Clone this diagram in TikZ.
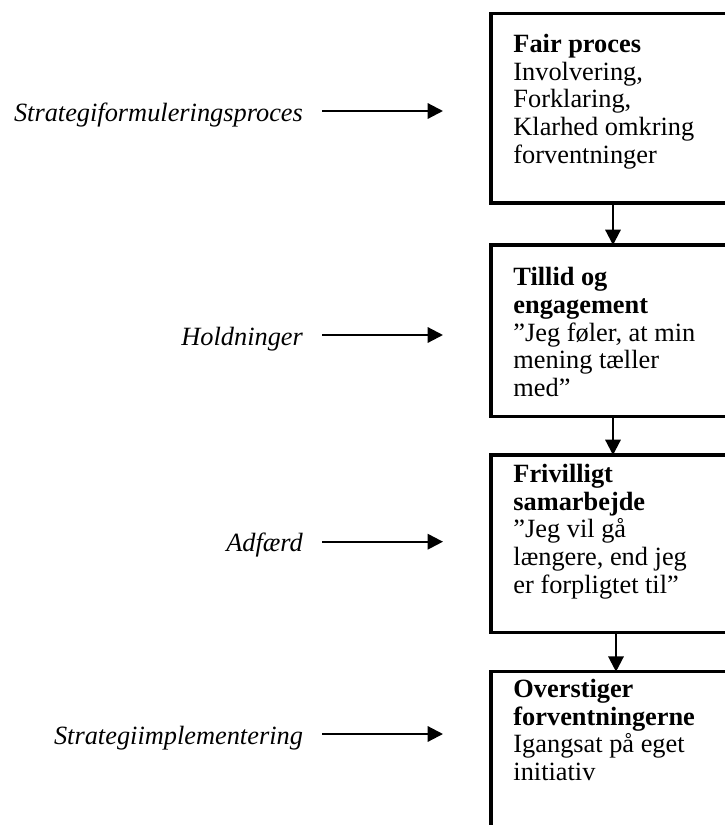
\documentclass[tikz,border=0pt]{standalone}
\usepackage{fontspec}
\setmainfont{Liberation Serif}
\usetikzlibrary{arrows.meta,calc}

\begin{document}
\begin{tikzpicture}[
    x=0.4554pt, y=-0.4554pt,
    stagebox/.style={draw, line width=1.6pt, anchor=north west, outer sep=0pt, minimum width=125pt},
    stagetext/.style={anchor=north west, align=left, inner sep=0pt, font=\fontsize{12}{12.6}\selectfont},
    cause/.style={anchor=east, inner xsep=8.7pt, inner ysep=0pt, outer sep=0pt, text height=9.2pt, text depth=0pt, font=\fontsize{12}{12.6}\selectfont\itshape},
    flow/.style={-{Triangle[length=7pt, width=7pt]}, line width=1pt}
]
\useasboundingbox (0,0) rectangle (724,825);

\node[stagebox, minimum height=86.5pt] (fair) at (491,13.3) {};
\node[stagetext] (fair-text) at ($(fair.north west)+(22,20.4)$) {\textbf{Fair proces}\\Involvering,\\Forklaring,\\Klarhed omkring\\forventninger};

\node[stagebox, minimum height=78.2pt] (tillid) at (491,245) {};
\node[stagetext] (tillid-text) at ($(tillid.north west)+(22,22)$) {\textbf{Tillid og}\\\textbf{engagement}\\”Jeg føler, at min\\mening tæller\\med”};

\node[stagebox, minimum height=80.9pt] (samarbejde) at (491,455) {};
\node[stagetext] (samarbejde-text) at ($(samarbejde.north west)+(22,8.7)$) {\textbf{Frivilligt}\\\textbf{samarbejde}\\”Jeg vil gå\\længere, end jeg\\er forpligtet til”};

\node[stagebox, minimum height=90pt] (overstiger) at (491,671.7) {};
\node[stagetext] (overstiger-text) at ($(overstiger.north west)+(22,7)$) {\textbf{Overstiger}\\\textbf{forventningerne}\\Igangsat på eget\\initiativ};

\draw[flow] ($(fair.south west)+(122,0)$) -- ($(tillid.north west)+(122,0)$);
\draw[flow] ($(tillid.south west)+(122,0)$) -- ($(samarbejde.north west)+(122,0)$);
\draw[flow] ($(samarbejde.south west)+(125,0)$) -- ($(overstiger.north west)+(125,0)$);

\node[cause] (formulering) at (322,111) {Strategiformuleringsproces};
\coordinate (formulering-tip) at (443,111);
\draw[flow] (formulering) -- (formulering-tip);

\node[cause] (holdninger) at (322,335) {Holdninger};
\coordinate (holdninger-tip) at (443,335);
\draw[flow] (holdninger) -- (holdninger-tip);

\node[cause] (adfaerd) at (322,541.7) {Adfærd};
\coordinate (adfaerd-tip) at (443,541.7);
\draw[flow] (adfaerd) -- (adfaerd-tip);

\node[cause] (implementering) at (322,734) {Strategiimplementering};
\coordinate (implementering-tip) at (443,734);
\draw[flow] (implementering) -- (implementering-tip);
\end{tikzpicture}
\end{document}
